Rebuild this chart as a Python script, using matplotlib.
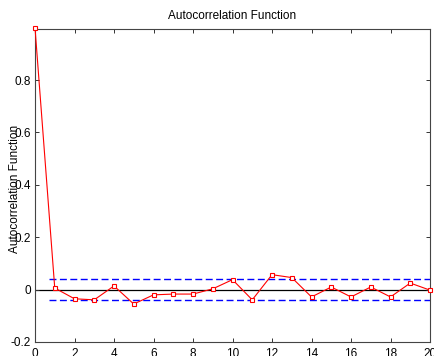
import numpy as np
import matplotlib
matplotlib.use("Agg")
import matplotlib.pyplot as plt

plt.rc('font', family='Liberation Sans')

# sample autocorrelation, lags 0..20
lags = list(range(21))
acf = [1.0, 0.006, -0.035, -0.039, 0.014, -0.055, -0.020, -0.017, -0.017, 0.003,
       0.038, -0.039, 0.057, 0.046, -0.028, 0.010, -0.028, 0.010, -0.028, 0.025, -0.002]
bound = 0.04
bound_x = [0.7, 20]
yticks = [-0.2, 0, 0.2, 0.4, 0.6, 0.8]
ytick_labels = ['-0.2', '0', '0.2', '0.4', '0.6', '0.8']
xticks = list(range(0, 21, 2))

fig = plt.figure(figsize=(4.34, 3.56), dpi=100)
ax = fig.add_axes([35/434, 1 - 342/356, 395/434, 313/356])

ax.axhline(0, color='k', linewidth=0.9, zorder=1)
ax.plot(bound_x, [bound, bound], color='#0000ff', linestyle=(0, (5, 2.5)), linewidth=1.0, zorder=2)
ax.plot(bound_x, [-bound, -bound], color='#0000ff', linestyle=(0, (5, 2.5)), linewidth=1.0, zorder=2)
ax.plot(lags, acf, color='#ff0000', linewidth=0.8, marker='s', markersize=3.4,
        markerfacecolor='white', markeredgecolor='#ff0000', markeredgewidth=0.8,
        clip_on=False, zorder=3)

ax.set_xlim(0, 20)
ax.set_ylim(-0.2, 0.995)
ax.set_xticks(xticks)
ax.set_yticks(yticks)
ax.set_yticklabels(ytick_labels)
ax.tick_params(direction='in', length=3, width=0.7, labelsize=8.5, top=True, right=True,
               color='#333333')
ax.tick_params(axis='x', pad=4)
ax.tick_params(axis='y', pad=3)
for s in ax.spines.values():
    s.set_color('#444444')
    s.set_linewidth(0.8)

ax.set_title('Autocorrelation Function', fontsize=8.5, pad=7)
# the label sits over the tick labels, as in the original
ax.set_ylabel('Autocorrelation Function', fontsize=8.5)
ax.yaxis.set_label_coords(-0.036, 0.49)

fig.savefig('out.png', dpi=100)
